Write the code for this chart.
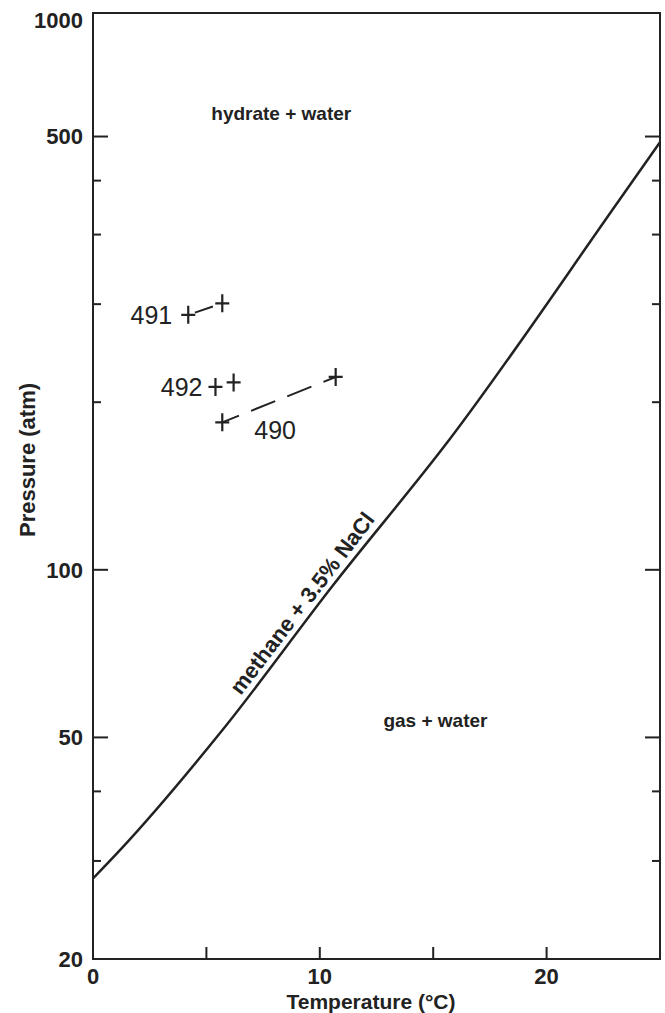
<!DOCTYPE html>
<html>
<head>
<meta charset="utf-8">
<script src="https://cdn.jsdelivr.net/npm/d3@7"></script>
<style>
    body { margin: 0; background: #fff; }
    svg { display: block; font-family: "Liberation Sans", Arial, sans-serif; }
    .tick-label { font-weight: bold; font-size: 22px; fill: #222; }
    .axis-title { font-weight: bold; font-size: 21px; fill: #222; }
    .region { font-weight: bold; font-size: 19px; fill: #222; }
    .site { font-size: 25px; fill: #222; }
</style>
</head>
<body>
<div id="chart"></div>
<script>
// equilibrium curve, methane + 3.5% NaCl
var curveTemp = [0, 1.2, 5.7, 10.6, 15.7, 23.2, 25];
var curvePress = [27.9, 31.4, 51.5, 94, 171, 461, 586];

// site measurements (temperature, pressure)
var siteNames = ['491', '492', '490'];
var siteTemps = [[4.2, 5.7], [5.4, 6.2], [5.7, 10.7]];
var sitePress = [[287, 301], [213, 217], [184, 222]];

var xTicks = [0, 5, 10, 15, 20];
var xTickLabels = ['0', '', '10', '', '20'];
var yMajor = [20, 50, 100, 600, 1000];
// the reference prints "500" beside the upper labelled tick
var yMajorLabels = ['20', '50', '100', '500', '1000'];
var yMinor = [30, 40, 200, 300, 400, 500];

var width = 665,
    height = 1013;
var margin = { top: 13, right: 5, bottom: 54, left: 93 };

var svg = d3
    .select('#chart')
    .append('svg')
    .attr('width', width)
    .attr('height', height);

var x = d3
    .scaleLinear()
    .domain([0, 25])
    .range([margin.left, width - margin.right]);

var y = d3
    .scaleLog()
    .domain([20, 1000])
    .range([height - margin.bottom, margin.top]);

var ink = '#222';
var g = svg.append('g');

// frame
g.append('rect')
    .attr('x', x(0))
    .attr('y', y(1000))
    .attr('width', x(25) - x(0))
    .attr('height', y(20) - y(1000))
    .attr('fill', 'none')
    .attr('stroke', ink)
    .attr('stroke-width', 2);

// x ticks, pointing inward
g.selectAll('.xtick')
    .data(xTicks.slice(1))
    .enter()
    .append('line')
    .attr('x1', function(d) { return x(d); })
    .attr('x2', function(d) { return x(d); })
    .attr('y1', y(20))
    .attr('y2', y(20) - 12)
    .attr('stroke', ink)
    .attr('stroke-width', 2);

g.selectAll('.xlabel')
    .data(xTicks)
    .enter()
    .append('text')
    .attr('class', 'tick-label')
    .attr('x', function(d) { return x(d); })
    .attr('y', y(20) + 25)
    .attr('text-anchor', 'middle')
    .text(function(d, i) { return xTickLabels[i]; });

// y ticks on both sides
var yTicks = yMajor.slice(1, 4).map(function(v) { return { v: v, len: 15 }; })
    .concat(yMinor.map(function(v) { return { v: v, len: 8 }; }));

[x(0), x(25)].forEach(function(x0, side) {
    var dir = side === 0 ? 1 : -1;
    g.selectAll('.ytick' + side)
        .data(yTicks)
        .enter()
        .append('line')
        .attr('x1', x0)
        .attr('x2', function(d) { return x0 + dir * d.len; })
        .attr('y1', function(d) { return y(d.v); })
        .attr('y2', function(d) { return y(d.v); })
        .attr('stroke', ink)
        .attr('stroke-width', 2);
});

g.selectAll('.ylabel')
    .data(yMajor)
    .enter()
    .append('text')
    .attr('class', 'tick-label')
    .attr('x', x(0) - 10)
    .attr('y', function(d) { return d === 1000 ? y(d) + 7 : y(d); })
    .attr('dy', '0.36em')
    .attr('text-anchor', 'end')
    .text(function(d, i) { return yMajorLabels[i]; });

// axis titles
g.append('text')
    .attr('class', 'axis-title')
    .attr('x', 371)
    .attr('y', height - 4)
    .attr('text-anchor', 'middle')
    .text('Temperature (°C)');

g.append('text')
    .attr('class', 'axis-title')
    .attr('transform', 'translate(35,460) rotate(-90)')
    .attr('text-anchor', 'middle')
    .style('font-size', '22px')
    .text('Pressure (atm)');

// equilibrium curve
var curveData = curveTemp.map(function(t, i) { return [t, curvePress[i]]; });
var line = d3
    .line()
    .x(function(d) { return x(d[0]); })
    .y(function(d) { return y(d[1]); })
    .curve(d3.curveMonotoneX);

g.append('path')
    .datum(curveData)
    .attr('d', line)
    .attr('fill', 'none')
    .attr('stroke', ink)
    .attr('stroke-width', 2.5);

// curve label, rotated along the line
var p0 = [x(curveTemp[2]), y(curvePress[2])],
    p1 = [x(curveTemp[3]), y(curvePress[3])];
var ang = Math.atan2(p1[1] - p0[1], p1[0] - p0[0]) * 180 / Math.PI;
var lx = x(9.7),
    ly = p0[1] + (p1[1] - p0[1]) * (lx - p0[0]) / (p1[0] - p0[0]);
g.append('text')
    .attr('class', 'region')
    .attr('transform', 'translate(' + lx + ',' + ly + ') rotate(' + ang + ')')
    .attr('text-anchor', 'middle')
    .attr('dy', -6)
    .style('font-size', '22px')
    .text('methane + 3.5% NaCl');

// region labels
g.append('text')
    .attr('class', 'region')
    .attr('x', x(8.3))
    .attr('y', y(660))
    .attr('dy', '0.35em')
    .attr('text-anchor', 'middle')
    .text('hydrate + water');

g.append('text')
    .attr('class', 'region')
    .attr('x', x(15.1))
    .attr('y', y(53.7))
    .attr('dy', '0.35em')
    .attr('text-anchor', 'middle')
    .text('gas + water');

// site points
var sites = siteNames.map(function(n, i) {
    return { name: n, pts: siteTemps[i].map(function(t, j) { return [t, sitePress[i][j]]; }) };
});

var dashes = { '491': '0,7,19,100', '492': '0,100', '490': '18,13,26,13,26,13,30' };

var site = g.selectAll('.site-g')
    .data(sites)
    .enter()
    .append('g');

site.append('line')
    .attr('x1', function(d) { return x(d.pts[0][0]); })
    .attr('y1', function(d) { return y(d.pts[0][1]); })
    .attr('x2', function(d) { return x(d.pts[1][0]); })
    .attr('y2', function(d) { return y(d.pts[1][1]); })
    .attr('stroke', ink)
    .attr('stroke-width', 2)
    .attr('stroke-dasharray', function(d) { return dashes[d.name]; });

site.selectAll('.cross')
    .data(function(d) { return d.pts; })
    .enter()
    .append('path')
    .attr('d', function(d) {
        var cx = x(d[0]), cy = y(d[1]);
        return 'M' + (cx - 7) + ',' + cy + 'H' + (cx + 7) + 'M' + cx + ',' + (cy - 9) + 'V' + (cy + 9);
    })
    .attr('stroke', ink)
    .attr('stroke-width', 2.2)
    .attr('fill', 'none');

site.append('text')
    .attr('class', 'site')
    .attr('x', function(d) {
        return d.name === '490' ? x(d.pts[0][0]) + 32 : x(d.pts[0][0]) - (d.name === '491' ? 16 : 13);
    })
    .attr('y', function(d) {
        return d.name === '490' ? y(d.pts[0][1]) + 8 : y(d.pts[0][1]);
    })
    .attr('dy', '0.36em')
    .attr('text-anchor', function(d) { return d.name === '490' ? 'start' : 'end'; })
    .text(function(d) { return d.name; });
</script>
</body>
</html>
